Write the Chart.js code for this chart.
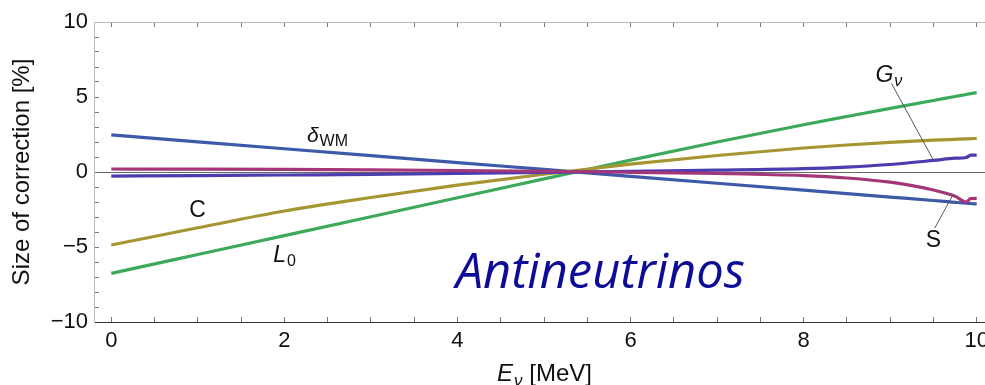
<!DOCTYPE html>
<html>
<head>
<meta charset="utf-8">
<script src="https://cdn.jsdelivr.net/npm/chart.js@4.4.1/dist/chart.umd.min.js"></script>
<style>
  html, body { margin: 0; padding: 0; background: #fff; overflow: hidden; }
  #wrap { width: 1000px; height: 385px; }
</style>
</head>
<body>
<div id="wrap"><canvas id="myChart" width="1000" height="385"></canvas></div>
<script>
// energy grid in MeV, corrections in %
let energy = [0, 1, 2, 3, 4, 5, 6, 7, 8, 8.5, 9, 9.5, 9.75, 9.88, 9.93, 10];
let deltaWM = [2.47, 2.01, 1.55, 1.09, 0.63, 0.17, -0.29, -0.75, -1.21, -1.44, -1.67, -1.9, -2.02, -2.08, -2.1, -2.13];
let L0 = [-6.76, -5.5, -4.24, -2.98, -1.72, -0.46, 0.79, 2.0, 3.15, 3.7, 4.24, 4.77, 5.03, 5.17, 5.22, 5.29];
let C = [-4.87, -3.72, -2.6, -1.7, -0.88, -0.15, 0.52, 1.1, 1.6, 1.8, 1.97, 2.12, 2.18, 2.21, 2.22, 2.24];
let Gv = [-0.27, -0.24, -0.2, -0.16, -0.1, -0.03, 0.05, 0.12, 0.22, 0.33, 0.5, 0.77, 0.92, 0.97, 1.12, 1.13];
let S = [0.2, 0.19, 0.17, 0.14, 0.1, 0.05, -0.02, -0.1, -0.24, -0.4, -0.68, -1.2, -1.62, -2.0, -1.77, -1.76];

let xTickLabels = [0, 2, 4, 6, 8, 10];
let yTickLabels = [-10, -5, 0, 5, 10];

// curve names, placed in data coordinates
let curveLabels = [
  { main: "δ", sub: "WM", x: 2.26, y: 2.02, mainItalic: true, subItalic: false, size: 21 },
  { main: "C", sub: "", x: 0.9, y: -3.02, mainItalic: false, subItalic: false, size: 23 },
  { main: "L", sub: "0", x: 1.87, y: -6.0, mainItalic: true, subItalic: false, size: 23 },
  { main: "G", sub: "ν", x: 8.83, y: 6.0, mainItalic: true, subItalic: true, size: 23 },
  { main: "S", sub: "", x: 9.41, y: -4.98, mainItalic: false, subItalic: false, size: 23 },
];
// leader lines from label to curve
let leaders = [
  [9.015, 5.91, 9.495, 0.85],
  [9.515, -3.75, 9.73, -1.47],
];

const FONT = "'Liberation Sans', Arial, Helvetica, sans-serif";

function series(values) {
  return energy.map((e, i) => ({ x: e, y: values[i] }));
}

function line(label, values, color) {
  return {
    label: label,
    data: series(values),
    borderColor: color,
    backgroundColor: color,
    borderWidth: 3.2,
    pointRadius: 0,
    fill: false,
    cubicInterpolationMode: "monotone",
    xAxisID: "x",
    yAxisID: "y",
  };
}

function fmtMinus(v) {
  return v < 0 ? "\u2212" + Math.abs(v) : String(v);
}

function fixSize(prop, value) {
  return function (scale) {
    scale[prop] = value;
    scale.paddingLeft = 0;
    scale.paddingRight = 0;
    scale.paddingTop = 0;
    scale.paddingBottom = 0;
  };
}

function drawLabel(ctx, xs, ys, lb) {
  let px = xs.getPixelForValue(lb.x);
  let py = ys.getPixelForValue(lb.y);
  ctx.font = (lb.mainItalic ? "italic " : "") + lb.size + "px " + FONT;
  ctx.fillText(lb.main, px, py);
  if (lb.sub) {
    let w = ctx.measureText(lb.main).width;
    ctx.font = (lb.subItalic ? "italic " : "") + "16px " + FONT;
    ctx.fillText(lb.sub, px + w + 1, py + 4);
  }
}

const annotations = {
  id: "annotations",
  afterDatasetsDraw(chart) {
    let ctx = chart.ctx;
    let xs = chart.scales.x;
    let ys = chart.scales.y;
    ctx.save();
    ctx.strokeStyle = "#555";
    ctx.lineWidth = 1;
    for (let l of leaders) {
      ctx.beginPath();
      ctx.moveTo(xs.getPixelForValue(l[0]), ys.getPixelForValue(l[1]));
      ctx.lineTo(xs.getPixelForValue(l[2]), ys.getPixelForValue(l[3]));
      ctx.stroke();
    }
    ctx.fillStyle = "#111";
    ctx.textBaseline = "alphabetic";
    ctx.textAlign = "left";
    for (let lb of curveLabels) drawLabel(ctx, xs, ys, lb);

    // big caption
    ctx.fillStyle = "#0c0c96";
    ctx.font = "italic 49px 'Open Sans', Lato, sans-serif";
    ctx.fillText("Antineutrinos", xs.getPixelForValue(3.98), ys.getPixelForValue(-7.73), 289);

    // x axis title: E_ν [MeV]
    let area = chart.chartArea;
    let base = 381;
    ctx.fillStyle = "#111";
    ctx.font = "italic 24px " + FONT;
    let wE = ctx.measureText("E").width;
    ctx.font = "italic 17px " + FONT;
    let wN = ctx.measureText("ν").width;
    ctx.font = "24px " + FONT;
    let wR = ctx.measureText(" [MeV]").width;
    let x0 = (area.left + area.right) / 2 - (wE + wN + wR) / 2;
    ctx.font = "italic 24px " + FONT;
    ctx.fillText("E", x0, base);
    ctx.font = "italic 17px " + FONT;
    ctx.fillText("ν", x0 + wE + 1, base + 5);
    ctx.font = "24px " + FONT;
    ctx.fillText(" [MeV]", x0 + wE + wN + 1, base);
    ctx.restore();
  },
};

let ctx = document.getElementById("myChart").getContext("2d");
let myChart = new Chart(ctx, {
  type: "line",
  data: {
    datasets: [
      line("S", S, "#a53778"),
      line("Gv", Gv, "#4b3caf"),
      line("deltaWM", deltaWM, "#3c5aa8"),
      line("C", C, "#a59632"),
      line("L0", L0, "#3caa5a"),
    ],
  },
  options: {
    responsive: false,
    animation: false,
    layout: { padding: { left: 0, right: 6, top: 0, bottom: 0 } },
    plugins: {
      legend: { display: false },
      tooltip: { enabled: false },
    },
    scales: {
      x: {
        type: "linear",
        position: "bottom",
        min: -0.2,
        max: 10.2,
        afterFit: fixSize("height", 63),
        border: { color: "#333", width: 1 },
        grid: { drawOnChartArea: false, tickLength: -5, tickColor: "#777", tickWidth: 1 },
        ticks: {
          stepSize: 0.5,
          maxTicksLimit: 100,
          includeBounds: false,
          autoSkip: false,
          maxRotation: 0,
          padding: 11,
          color: "#111",
          font: { family: FONT, size: 22 },
          callback: (v) => (xTickLabels.includes(v) ? String(v) : ""),
        },
      },
      x2: {
        type: "linear",
        position: "top",
        min: -0.2,
        max: 10.2,
        afterFit: fixSize("height", 22),
        border: { color: "#bbb", width: 1 },
        grid: { drawOnChartArea: false, tickLength: -5, tickColor: "#777", tickWidth: 1 },
        ticks: {
          stepSize: 0.5,
          maxTicksLimit: 100,
          includeBounds: false,
          autoSkip: false,
          display: false,
        },
      },
      y: {
        type: "linear",
        position: "left",
        min: -10,
        max: 10,
        afterFit: fixSize("width", 94),
        border: { color: "#bbb", width: 1 },
        grid: {
          drawOnChartArea: true,
          color: (c) => (c.tick && c.tick.value === 0 ? "#666" : "rgba(0,0,0,0)"),
          tickLength: -5,
          tickColor: "#777",
          tickWidth: 1,
        },
        title: {
          display: true,
          text: "Size of correction [%]",
          color: "#111",
          font: { family: FONT, size: 24 },
          padding: { top: 8, bottom: 0 },
        },
        ticks: {
          stepSize: 1,
          maxTicksLimit: 100,
          autoSkip: false,
          padding: 11,
          color: "#111",
          font: { family: FONT, size: 22 },
          callback: (v) => (yTickLabels.includes(v) ? fmtMinus(v) : ""),
        },
      },
    },
  },
  plugins: [annotations],
});
</script>
</body>
</html>
